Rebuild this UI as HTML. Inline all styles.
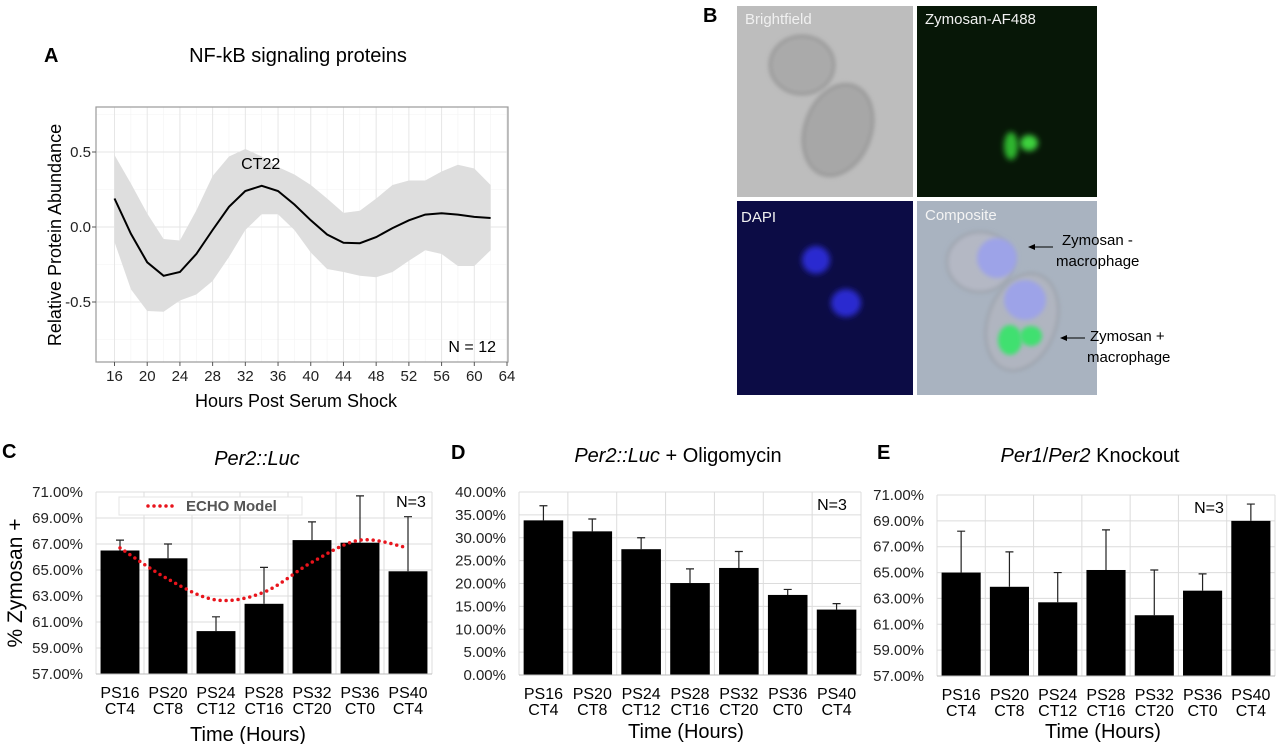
<!DOCTYPE html>
<html><head><meta charset="utf-8">
<style>
html,body{margin:0;padding:0;background:#fff;}
svg{display:block;font-family:"Liberation Sans",Arial,sans-serif;}
</style></head>
<body>
<svg id="fig" width="1280" height="744" viewBox="0 0 1280 744" xmlns="http://www.w3.org/2000/svg">
<defs>
  <filter id="blur3" x="-50%" y="-50%" width="200%" height="200%"><feGaussianBlur stdDeviation="3"/></filter>
  <filter id="blur2" x="-50%" y="-50%" width="200%" height="200%"><feGaussianBlur stdDeviation="2"/></filter>
</defs>

<!-- Panel A -->
<g>
  <text x="44" y="62" font-size="20" font-weight="bold">A</text>
  <text x="298" y="62" font-size="20" text-anchor="middle">NF-kB signaling proteins</text>
  <g id="aPlot"></g>
  <text transform="translate(61,235) rotate(-90)" font-size="18" text-anchor="middle">Relative Protein Abundance</text>
  <text x="296" y="407" font-size="18" text-anchor="middle">Hours Post Serum Shock</text>
</g>

<!-- Panel B -->
<g>
  <text x="703" y="22" font-size="20" font-weight="bold">B</text>
  <g>
    <rect x="737" y="6" width="176" height="191" fill="#bdbdbd"/>
    <ellipse cx="802" cy="65" rx="32" ry="29" fill="#aaaaaa" stroke="#8a8a8a" stroke-width="2" filter="url(#blur2)"/>
    <ellipse cx="838" cy="130" rx="33" ry="47" transform="rotate(20 838 130)" fill="#a7a7a7" stroke="#8a8a8a" stroke-width="2" filter="url(#blur2)"/>
    <text x="745" y="24" font-size="15" fill="#f0f0f0">Brightfield</text>
  </g>
  <g>
    <rect x="917" y="6" width="180" height="191" fill="#071707"/>
    <ellipse cx="1011" cy="146" rx="7" ry="14" fill="#2fb52f" filter="url(#blur3)"/>
    <ellipse cx="1029" cy="143" rx="9" ry="8" fill="#3ed23e" filter="url(#blur3)"/>
    <text x="925" y="24" font-size="15" fill="#f0f0f0">Zymosan-AF488</text>
  </g>
  <g>
    <rect x="737" y="201" width="176" height="194" fill="#0c0c45"/>
    <ellipse cx="816" cy="260" rx="14" ry="14" fill="#2a2ad0" filter="url(#blur3)"/>
    <ellipse cx="846" cy="303" rx="15" ry="14" fill="#2a2ad0" filter="url(#blur3)"/>
    <text x="741" y="222" font-size="15" fill="#f0f0f0">DAPI</text>
  </g>
  <g>
    <rect x="917" y="201" width="180" height="194" fill="#a9b3c0"/>
    <ellipse cx="980" cy="262" rx="33" ry="30" fill="#b4b8c4" stroke="#8f949c" stroke-width="1.5" filter="url(#blur2)"/>
    <ellipse cx="997" cy="258" rx="20" ry="20" fill="#9da3e8" filter="url(#blur2)"/>
    <ellipse cx="1022" cy="322" rx="34" ry="50" transform="rotate(20 1022 322)" fill="#b0b5c0" stroke="#8f949c" stroke-width="1.5" filter="url(#blur2)"/>
    <ellipse cx="1025" cy="300" rx="21" ry="20" fill="#9da3e8" filter="url(#blur2)"/>
    <ellipse cx="1010" cy="340" rx="12" ry="15" fill="#40e070" filter="url(#blur2)"/>
    <ellipse cx="1031" cy="336" rx="11" ry="10" fill="#40e070" filter="url(#blur2)"/>
    <text x="925" y="220" font-size="15" fill="#f4f4f4">Composite</text>
  </g>
  <g>
    <line x1="1053" y1="247" x2="1032" y2="247" stroke="#000" stroke-width="1"/>
    <polygon points="1028,247 1035,244 1035,250" fill="#000"/>
    <text x="1062" y="245" font-size="15">Zymosan -</text>
    <text x="1056" y="266" font-size="15">macrophage</text>
  </g>
  <g>
    <line x1="1085" y1="338" x2="1064" y2="338" stroke="#000" stroke-width="1"/>
    <polygon points="1060,338 1067,335 1067,341" fill="#000"/>
    <text x="1090" y="341" font-size="15">Zymosan +</text>
    <text x="1087" y="362" font-size="15">macrophage</text>
  </g>
</g>

<!-- Panel C -->
<g>
  <text x="2" y="458" font-size="20" font-weight="bold">C</text>
  <text x="257" y="465" font-size="20" font-style="italic" text-anchor="middle">Per2::Luc</text>
  <g id="cPlot"></g>
  <text transform="translate(22,583) rotate(-90)" font-size="21" text-anchor="middle">% Zymosan +</text>
  <text x="248" y="741" font-size="20" text-anchor="middle">Time (Hours)</text>
</g>

<!-- Panel D -->
<g>
  <text x="451" y="459" font-size="20" font-weight="bold">D</text>
  <text x="678" y="462" font-size="20" text-anchor="middle"><tspan font-style="italic">Per2::Luc</tspan> + Oligomycin</text>
  <g id="dPlot"></g>
  <text x="686" y="738" font-size="20" text-anchor="middle">Time (Hours)</text>
</g>

<!-- Panel E -->
<g>
  <text x="877" y="459" font-size="20" font-weight="bold">E</text>
  <text x="1090" y="462" font-size="20" text-anchor="middle"><tspan font-style="italic">Per1</tspan>/<tspan font-style="italic">Per2</tspan> Knockout</text>
  <g id="ePlot"></g>
  <text x="1103" y="738" font-size="20" text-anchor="middle">Time (Hours)</text>
</g>
</svg>

<script>
// ---------- Panel A data ----------
const aHours = [16,18,20,22,24,26,28,30,32,34,36,38,40,42,44,46,48,50,52,54,56,58,60,62];
const aMean  = [0.19,-0.045,-0.235,-0.325,-0.30,-0.18,-0.02,0.135,0.24,0.275,0.24,0.15,0.045,-0.05,-0.105,-0.108,-0.067,-0.007,0.045,0.083,0.092,0.083,0.067,0.06];
const aUpper = [0.48,0.29,0.09,-0.08,-0.09,0.11,0.34,0.47,0.52,0.47,0.40,0.35,0.28,0.19,0.094,0.108,0.19,0.28,0.31,0.31,0.37,0.415,0.39,0.28];
const aLower = [-0.10,-0.415,-0.56,-0.565,-0.49,-0.45,-0.36,-0.20,-0.02,0.085,0.085,-0.02,-0.17,-0.28,-0.30,-0.325,-0.335,-0.30,-0.225,-0.155,-0.18,-0.26,-0.26,-0.155];
const aXTicks = [16,20,24,28,32,36,40,44,48,52,56,60,64];
const aYTicks = [0.5,0.0,-0.5];
const aYTickLabels = ["0.5","0.0","-0.5"];

// ---------- Bar panels data ----------
const barCategories = [["PS16","CT4"],["PS20","CT8"],["PS24","CT12"],["PS28","CT16"],["PS32","CT20"],["PS36","CT0"],["PS40","CT4"]];
const cValues = [66.5,65.9,60.3,62.4,67.3,67.1,64.9];
const cErrTop = [67.3,67.0,61.4,65.2,68.7,70.7,69.1];
const cEcho   = [66.7,64.3,62.7,63.3,65.6,67.3,66.7];
const cYTicks = [57,59,61,63,65,67,69,71];
const dValues = [33.8,31.4,27.5,20.1,23.4,17.5,14.3];
const dErrTop = [37.0,34.1,30.0,23.2,27.0,18.7,15.6];
const dYTicks = [0,5,10,15,20,25,30,35,40];
const eValues = [65.0,63.9,62.7,65.2,61.7,63.6,69.0];
const eErrTop = [68.2,66.6,65.0,68.3,65.2,64.9,70.3];
const eYTicks = [57,59,61,63,65,67,69,71];

const NS = "http://www.w3.org/2000/svg";
function mk(tag, attrs, parent){
  const e = document.createElementNS(NS, tag);
  for (const k in attrs) e.setAttribute(k, attrs[k]);
  parent.appendChild(e);
  return e;
}

// ---------- Panel A ----------
(function(){
  const g = document.getElementById('aPlot');
  const L=96,R=508,T=107,B=362;
  const x = h => 114.5 + (h-16)*(507-114.5)/48;
  const y = v => 227 - v*150;
  const bg = mk('rect',{x:L,y:T,width:R-L,height:B-T,fill:'#fff'},g);
  
  
  for (let i=0;i<aXTicks.length-1;i++){
    const xm = x((aXTicks[i]+aXTicks[i+1])/2);
    mk('line',{x1:xm,x2:xm,y1:T,y2:B,stroke:'#f3f3f3','stroke-width':0.6},g);
  }
  [0.75,0.25,-0.25,-0.75].forEach(v=>mk('line',{x1:L,x2:R,y1:y(v),y2:y(v),stroke:'#f3f3f3','stroke-width':0.6},g));
  aXTicks.forEach(h=>mk('line',{x1:x(h),x2:x(h),y1:T,y2:B,stroke:'#e6e6e6','stroke-width':1},g));
  aYTicks.forEach(v=>mk('line',{x1:L,x2:R,y1:y(v),y2:y(v),stroke:'#e6e6e6','stroke-width':1},g));
  let d = aHours.map((h,i)=>(i?'L':'M')+x(h).toFixed(1)+','+y(aUpper[i]).toFixed(1)).join(' ');
  for (let i=aHours.length-1;i>=0;i--) d += ' L'+x(aHours[i]).toFixed(1)+','+y(aLower[i]).toFixed(1);
  const band = mk('path',{d:d+' Z',fill:'#dedede'},g);
  
  
  const line = mk('path',{d:aHours.map((h,i)=>(i?'L':'M')+x(h).toFixed(1)+','+y(aMean[i]).toFixed(1)).join(' '),fill:'none',stroke:'#000','stroke-width':2},g);
  
  
  const border = mk('rect',{x:L,y:T,width:R-L,height:B-T,fill:'none',stroke:'#9a9a9a','stroke-width':1.2},g);
  
  
  aXTicks.forEach(h=>{
    mk('line',{x1:x(h),x2:x(h),y1:B,y2:B+4,stroke:'#555'},g);
    const t = mk('text',{x:x(h),y:B+19,'font-size':15,'text-anchor':'middle',fill:'#222'},g);
    t.textContent = h;
    
    
  });
  aYTicks.forEach((v,i)=>{
    mk('line',{x1:L-4,x2:L,y1:y(v),y2:y(v),stroke:'#555'},g);
    const t = mk('text',{x:L-5,y:y(v)+5,'font-size':15,'text-anchor':'end',fill:'#222'},g);
    t.textContent = aYTickLabels[i];
    
    
  });
  const pk = mk('text',{x:x(34)-1,y:y(0.28)-16,'font-size':16,'text-anchor':'middle'},g);
  pk.textContent='CT22';
  
  
  const n = mk('text',{x:496,y:352,'font-size':16,'text-anchor':'end'},g);
  n.textContent='N = 12';
  
  
})();

// ---------- Bar chart helper ----------
function barChart(gid, box, yTicks, values, errTop, nPos, prefix){
  const g = document.getElementById(gid);
  const {L,R,T,B} = box;
  const yMin = yTicks[0], yMax = yTicks[yTicks.length-1];
  const y = v => B - (v-yMin)/(yMax-yMin)*(B-T);
  const n = barCategories.length;
  const cw = (R-L)/n;
  const xc = i => L + cw*(i+0.5);
  const bw = cw*0.81;
  yTicks.forEach(v=>{
    mk('line',{x1:L,x2:R,y1:y(v),y2:y(v),stroke:'#dcdcdc','stroke-width':1},g);
    const t = mk('text',{x:L-13,y:y(v)+5,'font-size':15,'text-anchor':'end',fill:'#222'},g);
    t.textContent = v.toFixed(2)+'%';
    
    
  });
  for (let i=0;i<=n;i++) mk('line',{x1:L+cw*i,x2:L+cw*i,y1:T,y2:B,stroke:'#dcdcdc','stroke-width':1},g);
  values.forEach((v,i)=>{
    const r = mk('rect',{x:xc(i)-bw/2,y:y(v),width:bw,height:B-y(v),fill:'#000'},g);
    
    
    const e = mk('path',{d:'M'+xc(i)+','+y(v)+' V'+y(errTop[i])+' M'+(xc(i)-4)+','+y(errTop[i])+' H'+(xc(i)+4),stroke:'#222','stroke-width':1.2,fill:'none'},g);
    
    
    const t1 = mk('text',{x:xc(i),y:B+24,'font-size':16,'text-anchor':'middle'},g);
    t1.textContent = barCategories[i][0];
    
    
    const t2 = mk('text',{x:xc(i),y:B+40,'font-size':16,'text-anchor':'middle'},g);
    t2.textContent = barCategories[i][1];
    
    
  });
  mk('line',{x1:L,x2:R,y1:B,y2:B,stroke:'#bbb','stroke-width':1},g);
  const nt = mk('text',{x:nPos[0],y:nPos[1],'font-size':16,'text-anchor':'middle'},g);
  nt.textContent='N=3';
  
  
  return {g,y,xc,L,R,T,B};
}

const cc = barChart('cPlot',{L:96,R:432,T:492,B:674},cYTicks,cValues,cErrTop,[411,507],'c');
barChart('dPlot',{L:519,R:861,T:492,B:675},dYTicks,dValues,dErrTop,[832,510],'d');
barChart('ePlot',{L:937,R:1275,T:495,B:676},eYTicks,eValues,eErrTop,[1209,513],'e');

// ECHO model curve (panel C)
(function(){
  const {g,y,xc} = cc;
  const pts = cEcho.map((v,i)=>[xc(i),y(v)]);
  let d = 'M'+pts[0][0]+','+pts[0][1];
  for (let i=0;i<pts.length-1;i++){
    const p0=pts[Math.max(0,i-1)],p1=pts[i],p2=pts[i+1],p3=pts[Math.min(pts.length-1,i+2)];
    const c1=[p1[0]+(p2[0]-p0[0])/6,p1[1]+(p2[1]-p0[1])/6];
    const c2=[p2[0]-(p3[0]-p1[0])/6,p2[1]-(p3[1]-p1[1])/6];
    d+=' C'+c1[0].toFixed(1)+','+c1[1].toFixed(1)+' '+c2[0].toFixed(1)+','+c2[1].toFixed(1)+' '+p2[0].toFixed(1)+','+p2[1].toFixed(1);
  }
  const echo = mk('path',{d:d,fill:'none',stroke:'#e8141c','stroke-width':3.5,'stroke-dasharray':'0 6','stroke-linecap':'round'},g);
  
  
  const lg = mk('g',{},g);
  
  
  mk('rect',{x:119,y:497,width:183,height:18,fill:'#fff',stroke:'#e4e4e4'},lg);
  mk('line',{x1:148,x2:177,y1:506,y2:506,stroke:'#e8141c','stroke-width':3.5,'stroke-dasharray':'0 6','stroke-linecap':'round'},lg);
  const lt = mk('text',{x:186,y:511,'font-size':15,'font-weight':'bold',fill:'#555'},lg);
  lt.textContent='ECHO Model';
  
  
})();
</script>
</body></html>
